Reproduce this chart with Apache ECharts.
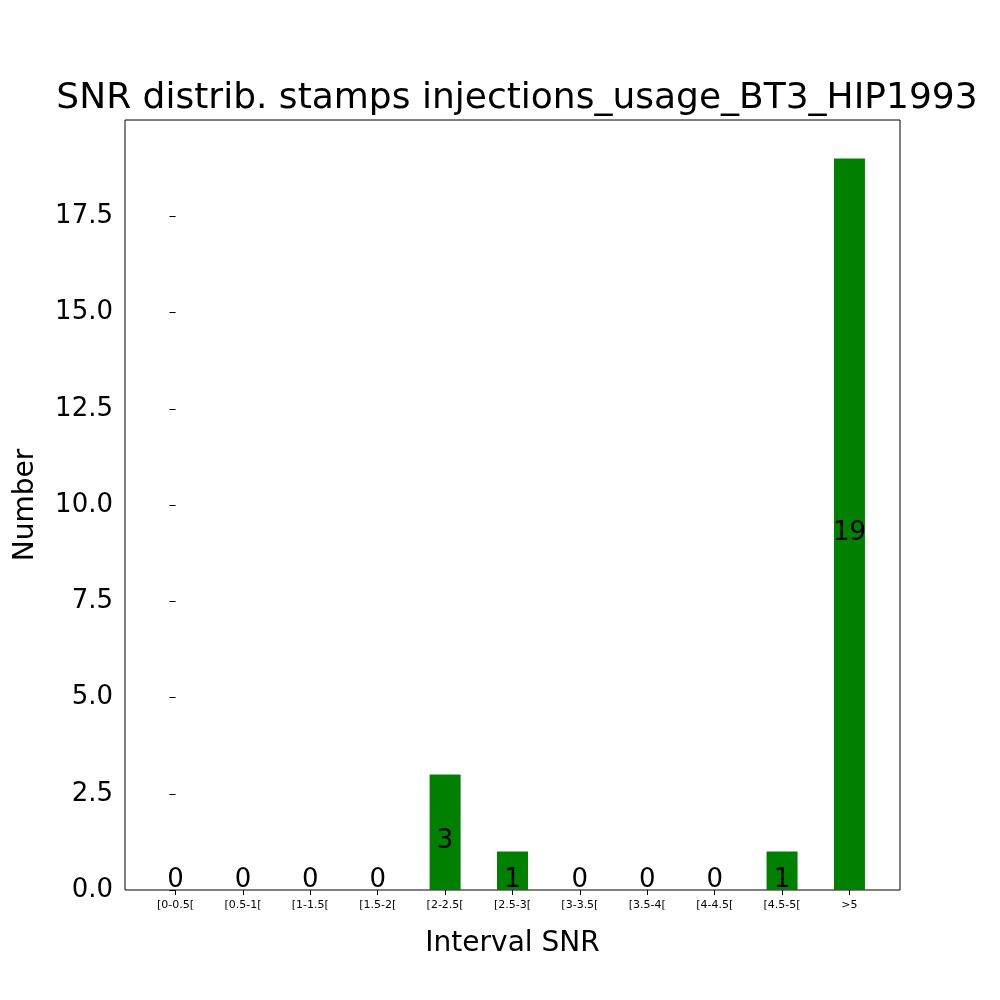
<!DOCTYPE html>
<html><head><meta charset="utf-8">
<script src="https://cdn.jsdelivr.net/npm/echarts@6/dist/echarts.min.js"></script>
<style>body{margin:0}#c{width:1000px;height:1000px}</style></head>
<body><div id="c"></div>
<script>
const categories = ['[0-0.5[','[0.5-1[','[1-1.5[','[1.5-2[','[2-2.5[','[2.5-3[','[3-3.5[','[3.5-4[','[4-4.5[','[4.5-5[','>5'];
const counts = [0,0,0,0,3,1,0,0,0,1,19];
const yTicks = [0,2.5,5,7.5,10,12.5,15,17.5];
const font = 'DejaVu Sans';
const data = counts.map((v,i)=>({
  value:[i,v],
  label: v===0 ? {position:'top', distance:-3} : {position:'inside', offset:[0,9]}
}));
const chart = echarts.init(document.getElementById('c'));
chart.setOption({
  animation:false,
  backgroundColor:'#fff',
  title:{text:'SNR distrib. stamps injections_usage_BT3_HIP1993', left:512, top:76, textAlign:'center',
    textStyle:{fontFamily:font, fontSize:36, fontWeight:'normal', color:'#000'}},
  grid:{left:125, right:100, top:120, bottom:110, show:true, borderColor:'#000', borderWidth:1},
  xAxis:{type:'value', min:-0.75, max:10.75, name:'Interval SNR', nameLocation:'middle', nameGap:40,
    nameTextStyle:{fontFamily:font, fontSize:28, color:'#000'},
    splitLine:{show:false}, axisLine:{show:false},
    axisTick:{show:true, customValues:categories.map((c,i)=>i), lineStyle:{color:'#000'}, length:5},
    axisLabel:{customValues:categories.map((c,i)=>i), formatter:v=>categories[Math.round(v)],
      fontFamily:font, fontSize:11, color:'#000', margin:10}},
  yAxis:{type:'value', min:0, max:20, name:'Number', nameLocation:'middle', nameGap:85,
    nameTextStyle:{fontFamily:font, fontSize:28, color:'#000'},
    splitLine:{show:false}, axisLine:{show:false},
    axisTick:{show:true, customValues:yTicks, lineStyle:{color:'#000'}, length:6},
    axisLabel:{customValues:yTicks, formatter:v=>v.toFixed(1), fontFamily:font, fontSize:26, color:'#000', margin:12}},
  series:[{type:'bar', data:data, barWidth:31, itemStyle:{color:'#008000'},
    label:{show:true, formatter:p=>p.value[1], fontFamily:font, fontSize:26, color:'#000'}}]
});
</script></body></html>
